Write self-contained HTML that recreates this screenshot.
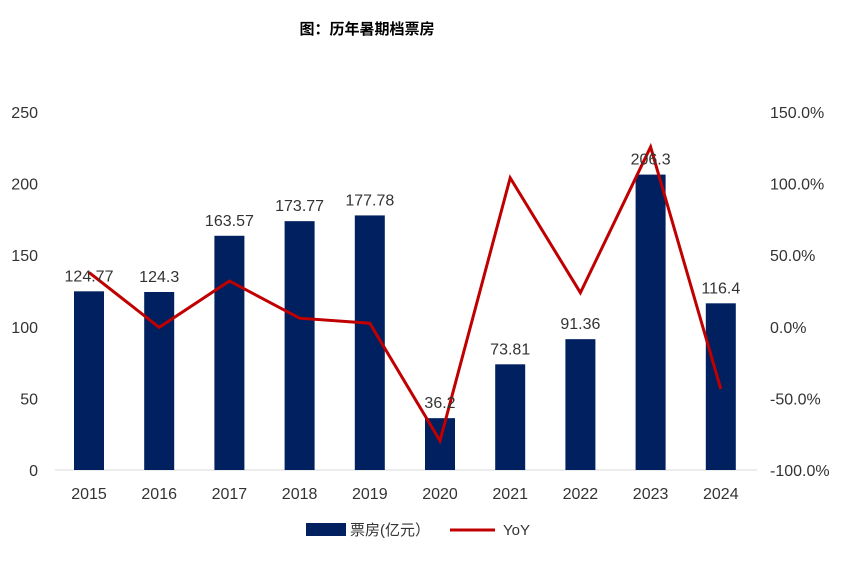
<!DOCTYPE html>
<html><head><meta charset="utf-8">
<style>
body{margin:0;background:#fff;width:853px;height:561px;overflow:hidden;font-family:"Liberation Sans","Noto Sans CJK SC",sans-serif;}
svg text{font-family:"Liberation Sans","Noto Sans CJK SC",sans-serif;}
</style></head>
<body>
<svg id="chart" width="853" height="561" xmlns="http://www.w3.org/2000/svg">
<text x="367" y="34" text-anchor="middle" font-size="15" font-weight="bold" fill="#000">图：历年暑期档票房</text>
<g id="axes"></g><g id="bars"></g><g id="line"></g><g id="labels"></g>
<g>
<rect x="306" y="523" width="40" height="13" fill="#002060"/>
<text x="350" y="535" font-size="15" fill="#333">票房(亿元）</text>
<line x1="450" y1="530" x2="495" y2="530" stroke="#c00000" stroke-width="3"/>
<text x="503" y="535" font-size="15" fill="#333">YoY</text>
</g>
</svg>
<script>
const categories=["2015","2016","2017","2018","2019","2020","2021","2022","2023","2024"];
const boxOffice=[124.77,124.3,163.57,173.77,177.78,36.2,73.81,91.36,206.3,116.4];
const boxLabels=["124.77","124.3","163.57","173.77","177.78","36.2","73.81","91.36","206.3","116.4"];
const yoy=[38,-0.4,32,6,2.5,-79.6,104,23.8,125.6,-43.4];
const leftTicks=[0,50,100,150,200,250];
const rightTicks=[-100,-50,0,50,100,150];
const rightTickLabels=["-100.0%","-50.0%","0.0%","50.0%","100.0%","150.0%"];
const NS="http://www.w3.org/2000/svg";
const y0=470,yTop=112;
const yL=v=>y0-(v/250)*(y0-yTop);
const yR=v=>y0-((v+100)/250)*(y0-yTop);
const xC=i=>89+i*70.2;
function mk(tag,attrs,parent){const e=document.createElementNS(NS,tag);for(const k in attrs)e.setAttribute(k,attrs[k]);document.getElementById(parent).appendChild(e);return e;}
const ax=mk("line",{x1:55,x2:757,y1:y0,y2:y0,stroke:"#d9d9d9"},"axes");


leftTicks.forEach(t=>{const e=mk("text",{x:38,y:yL(t)+6,"text-anchor":"end","font-size":"16",fill:"#333"},"axes");e.textContent=t;

});
rightTicks.forEach((t,i)=>{const e=mk("text",{x:770,y:yR(t)+6,"font-size":"16",fill:"#333"},"axes");e.textContent=rightTickLabels[i];

});
categories.forEach((c,i)=>{const e=mk("text",{x:xC(i),y:499,"text-anchor":"middle","font-size":"16",fill:"#333"},"axes");e.textContent=c;

});
boxOffice.forEach((v,i)=>{const r=mk("rect",{x:xC(i)-15,y:yL(v),width:30,height:y0-yL(v),fill:"#002060"},"bars");


const t=mk("text",{x:xC(i),y:yL(v)-10,"text-anchor":"middle","font-size":"16",fill:"#333"},"labels");t.textContent=boxLabels[i];

});
const pl=mk("polyline",{points:yoy.map((v,i)=>xC(i)+","+yR(v)).join(" "),fill:"none",stroke:"#c00000","stroke-width":"3","stroke-linejoin":"miter"},"line");


</script>
</body></html>
